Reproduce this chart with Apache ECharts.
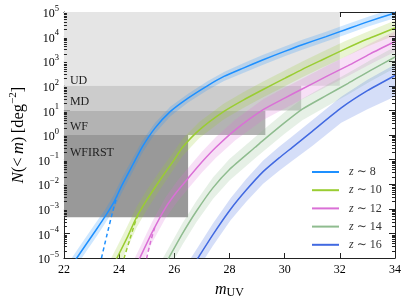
<!DOCTYPE html>
<html><head><meta charset="utf-8">
<script src="https://cdn.jsdelivr.net/npm/echarts/dist/echarts.min.js"></script>
<style>html,body{margin:0;padding:0;background:#fff}#c{width:407px;height:304px}</style>
</head><body><div id="c"></div>
<script>
// ---- data (log10 of N(<m) [deg^-2]) ----
const seriesNames = ['z8', 'z10', 'z12', 'z14', 'z16'];

const z8_m    = [22.1, 22.8, 23.2, 23.5, 23.8, 24.1, 24.5, 24.83, 25.3, 25.86, 26.5, 27.2, 27.8, 28.5, 29.2, 30.0, 30.64, 31.5, 32.2, 33.0, 34.0];
const z8_logN = [-5.6, -4.45, -3.8, -3.3, -2.75, -2.05, -1.2, -0.5, 0.28, 0.96, 1.5, 2.0, 2.38, 2.72, 3.05, 3.4, 3.67, 4.0, 4.28, 4.6, 4.96];
const z8_hi   = [-5.3, -4.15, -3.5, -3.02, -2.45, -1.75, -0.92, -0.25, 0.5, 1.16, 1.68, 2.18, 2.56, 2.92, 3.25, 3.6, 3.87, 4.2, 4.48, 4.8, 5.16];
const z8_lo   = [-5.9, -4.75, -4.1, -3.58, -3.05, -2.35, -1.48, -0.75, 0.06, 0.76, 1.32, 1.82, 2.2, 2.52, 2.85, 3.2, 3.47, 3.8, 4.08, 4.4, 4.76];

const z10_m    = [23.6, 23.92, 24.3, 24.63, 25.0, 25.5, 26.0, 26.3, 26.9, 27.8, 28.5, 29.22, 30.0, 30.64, 31.35, 32.2, 33.0, 34.0];
const z10_logN = [-5.7, -5.0, -4.15, -3.35, -2.65, -1.8, -1.0, -0.5, 0.2, 0.96, 1.42, 1.85, 2.3, 2.67, 3.05, 3.5, 3.9, 4.35];
const z10_hi   = [-5.25, -4.55, -3.7, -2.93, -2.25, -1.42, -0.65, -0.15, 0.53, 1.28, 1.74, 2.17, 2.62, 2.99, 3.37, 3.82, 4.2, 4.65];
const z10_lo   = [-6.15, -5.45, -4.6, -3.77, -3.05, -2.18, -1.35, -0.85, -0.13, 0.64, 1.1, 1.53, 1.98, 2.35, 2.73, 3.18, 3.6, 4.05];

const z12_m    = [24.45, 24.75, 25.2, 25.68, 26.1, 26.5, 27.0, 27.51, 28.2, 29.22, 30.0, 30.6, 31.5, 32.3, 33.1, 34.0];
const z12_logN = [-5.7, -5.0, -3.95, -2.96, -2.3, -1.76, -1.1, -0.5, 0.2, 1.03, 1.5, 1.85, 2.37, 2.82, 3.3, 3.8];
const z12_hi   = [-5.28, -4.58, -3.53, -2.54, -1.88, -1.34, -0.68, -0.08, 0.62, 1.45, 1.92, 2.27, 2.79, 3.24, 3.72, 4.22];
const z12_lo   = [-6.12, -5.42, -4.37, -3.38, -2.72, -2.18, -1.52, -0.92, -0.22, 0.61, 1.08, 1.43, 1.95, 2.4, 2.88, 3.38];

const z14_m    = [25.5, 25.8, 26.3, 26.8, 27.4, 28.0, 28.93, 29.22, 30.0, 30.64, 31.5, 32.3, 33.1, 34.0];
const z14_logN = [-5.6, -5.0, -4.0, -3.1, -2.15, -1.4, -0.5, -0.22, 0.5, 1.05, 1.6, 2.1, 2.62, 3.17];
const z14_hi   = [-5.18, -4.58, -3.58, -2.68, -1.73, -0.98, -0.08, 0.2, 0.92, 1.47, 2.02, 2.52, 3.04, 3.59];
const z14_lo   = [-6.05, -5.45, -4.45, -3.55, -2.6, -1.85, -0.95, -0.67, 0.05, 0.6, 1.15, 1.65, 2.17, 2.72];

const z16_m    = [26.5, 26.86, 27.4, 28.04, 28.6, 29.22, 29.8, 30.28, 31.0, 32.05, 33.0, 34.0];
const z16_logN = [-5.63, -5.0, -4.05, -3.02, -2.25, -1.49, -0.93, -0.5, 0.15, 1.1, 1.8, 2.42];
const z16_hi   = [-5.18, -4.55, -3.6, -2.57, -1.8, -1.04, -0.48, -0.05, 0.6, 1.55, 2.25, 2.87];
const z16_lo   = [-6.08, -5.45, -4.5, -3.47, -2.72, -1.98, -1.45, -1.05, -0.45, 0.5, 1.05, 1.57];

// dashed (alternative faint-end) curves
const z8d_m     = [23.3, 23.36, 23.55, 23.77, 23.92];
const z8d_logN  = [-5.28, -5.0, -4.1, -3.1, -2.5];
const z10d_m    = [24.12, 24.18, 24.4, 24.54, 24.68];
const z10d_logN = [-5.3, -5.0, -4.2, -3.69, -3.25];
const z12d_m    = [24.95, 25.0, 25.15, 25.3];
const z12d_logN = [-5.3, -5.0, -4.3, -3.72];

// survey regions
const surveyNames  = ['UD', 'MD', 'WF', 'WFIRST'];
const surveyMagMax = [32.0, 30.6, 29.3, 26.5];
const surveyNMin   = [1e2, 1e1, 1e0, 4.5e-4];
const surveyNMax   = [1e5, 1e2, 1e1, 1e0];

// ---- styling ----
const F = "'Liberation Serif','DejaVu Serif',serif";
const lineColors = ['#1e90ff', '#9acd32', '#da70d6', '#8fbc8f', '#4169e1'];
const bandColors = ['rgba(30,144,255,0.22)', 'rgba(154,205,50,0.22)', 'rgba(218,112,214,0.22)', 'rgba(143,188,143,0.22)', 'rgba(65,105,225,0.22)'];
const surveyColors = ['#e5e5e5', '#cccccc', '#b3b3b3', '#999999'];

const allM = [z8_m, z10_m, z12_m, z14_m, z16_m];
const allN = [z8_logN, z10_logN, z12_logN, z14_logN, z16_logN];
const allHi = [z8_hi, z10_hi, z12_hi, z14_hi, z16_hi];
const allLo = [z8_lo, z10_lo, z12_lo, z14_lo, z16_lo];
const dashM = [z8d_m, z10d_m, z12d_m];
const dashN = [z8d_logN, z10d_logN, z12d_logN];

const p10 = v => Math.pow(10, v);
function clipRect(cs) { return {type: 'rect', shape: {x: cs.x, y: cs.y, width: cs.width, height: cs.height}}; }

const series = [];
// survey rectangles
series.push({
  type: 'custom', z: 1, silent: true, animation: false,
  data: surveyNames.map((n, i) => [22, surveyNMin[i], surveyMagMax[i], surveyNMax[i]]),
  encode: {x: [0, 2], y: [1, 3]},
  renderItem: function (params, api) {
    const i = params.dataIndex;
    const p0 = api.coord([api.value(0), api.value(3)]);
    const p1 = api.coord([api.value(2), api.value(1)]);
    const dy = [-4.5, -8.5, -8.5, 17.5][i];
    const ty = i < 3 ? p1[1] + dy : p0[1] + dy;
    return {type: 'group', children: [
      {type: 'rect', shape: {x: p0[0], y: p0[1], width: p1[0] - p0[0], height: p1[1] - p0[1]}, style: {fill: surveyColors[i]}},
      {type: 'text', style: {text: surveyNames[i], x: p0[0] + 6, y: ty, fill: '#222', font: '12px ' + F, verticalAlign: 'middle'}}
    ], clipPath: clipRect(params.coordSys)};
  }
});
// bands
allM.forEach((ms, k) => {
  series.push({
    type: 'custom', z: 2, silent: true, animation: false,
    data: [[28, 1]],
    renderItem: function (params, api) {
      const pts = [];
      for (let i = 0; i < ms.length; i++) pts.push(api.coord([ms[i], p10(allHi[k][i])]));
      for (let i = ms.length - 1; i >= 0; i--) pts.push(api.coord([ms[i], p10(allLo[k][i])]));
      return {type: 'polygon', shape: {points: pts}, style: {fill: bandColors[k]}, clipPath: clipRect(params.coordSys)};
    }
  });
});
// dashed
dashM.forEach((ms, k) => {
  series.push({
    type: 'line', z: 3, silent: true, animation: false, symbol: 'none', smooth: 0.2,
    data: ms.map((m, i) => [m, p10(dashN[k][i])]),
    lineStyle: {color: lineColors[k], width: 1.5, type: [4, 3]}
  });
});
// solid lines
allM.forEach((ms, k) => {
  series.push({
    name: seriesNames[k], type: 'line', z: 4, silent: true, animation: false, symbol: 'none', smooth: 0.2,
    data: ms.map((m, i) => [m, p10(allN[k][i])]),
    lineStyle: {color: lineColors[k], width: 1.5}, itemStyle: {color: lineColors[k]}
  });
});
// minor ticks on log axis (both sides)
const minorVals = [];
for (let e = -5; e < 5; e++) for (let j = 2; j <= 9; j++) minorVals.push(j * p10(e));
series.push({
  type: 'custom', z: 10, silent: true, animation: false,
  data: [[28, 1]],
  renderItem: function (params, api) {
    const cs = params.coordSys;
    const ch = [];
    minorVals.forEach(v => {
      const y = Math.round(api.coord([28, v])[1]) + 0.5;
      ch.push({type: 'line', shape: {x1: cs.x, y1: y, x2: cs.x + 3, y2: y}, style: {stroke: '#222', lineWidth: 1}});
      ch.push({type: 'line', shape: {x1: cs.x + cs.width - 3, y1: y, x2: cs.x + cs.width, y2: y}, style: {stroke: '#222', lineWidth: 1}});
    });
    return {type: 'group', children: ch};
  }
});

// one legend component per row so each row sits where the reference has it
const legends = seriesNames.map((name, k) => ({
  data: [name], orient: 'vertical', left: 311, top: 166 + k * 18.2, padding: 0,
  itemWidth: 27, itemHeight: 14,
  itemStyle: {opacity: 0}, lineStyle: {width: 2},
  formatter: n => '{i|z}{r| \u223c ' + n.slice(1) + '}',
  textStyle: {padding: [0, 0, 0, 5], rich: {
    i: {fontFamily: F, fontStyle: 'italic', fontSize: 12, color: '#333'},
    r: {fontFamily: F, fontSize: 12, color: '#333'}
  }}
}));

const axisLine = {show: true, lineStyle: {color: '#222', width: 1}};
const chart = echarts.init(document.getElementById('c'), null, {renderer: 'canvas'});
chart.setOption({
  animation: false,
  grid: {left: 56, right: 12, top: 12, bottom: 41},
  legend: legends,
  xAxis: [{
    type: 'value', min: 22, max: 34, interval: 2,
    axisLine: axisLine, splitLine: {show: false},
    axisTick: {inside: true, length: 5, lineStyle: {color: '#222'}},
    axisLabel: {fontFamily: F, fontSize: 12, color: '#000', margin: 6},
    name: '{i|m}{u|UV}', nameLocation: 'middle', nameGap: 24,
    nameTextStyle: {rich: {
      i: {fontFamily: F, fontStyle: 'italic', fontSize: 16, color: '#000', verticalAlign: 'top', lineHeight: 17},
      u: {fontFamily: F, fontSize: 12, color: '#000', verticalAlign: 'bottom', lineHeight: 17, padding: [6, 0, 0, 0]}
    }}
  }, {
    type: 'value', min: 22, max: 34, interval: 2, position: 'top',
    axisLine: axisLine, splitLine: {show: false},
    axisTick: {inside: true, length: 5, lineStyle: {color: '#222'}},
    axisLabel: {show: false}
  }],
  yAxis: [{
    type: 'log', logBase: 10, min: 1e-5, max: 1e5, interval: 1, splitNumber: 10,
    axisLine: axisLine, splitLine: {show: false},
    axisTick: {inside: true, length: 6, lineStyle: {color: '#222'}},
    axisLabel: {margin: 5, formatter: function (v) {
      const e = Math.round(Math.log10(v));
      return '{b|10}{s|' + (e < 0 ? '\u2212' + (-e) : e) + '}';
    }, rich: {
      b: {fontFamily: F, fontSize: 12, color: '#000', verticalAlign: 'bottom', lineHeight: 16},
      s: {fontFamily: F, fontSize: 8.5, color: '#000', verticalAlign: 'top', lineHeight: 16}
    }},
    name: '{i|N}{r|(<\u2009}{i|m}{r|)\u2009[deg}{s|\u22122}{r|]}', nameLocation: 'middle', nameGap: 35, nameRotate: 90,
    nameTextStyle: {rich: {
      i: {fontFamily: F, fontStyle: 'italic', fontSize: 16.5, color: '#000', verticalAlign: 'bottom', lineHeight: 19},
      r: {fontFamily: F, fontSize: 16.5, color: '#000', verticalAlign: 'bottom', lineHeight: 19},
      s: {fontFamily: F, fontSize: 11, color: '#000', verticalAlign: 'top', lineHeight: 19}
    }}
  }, {
    type: 'log', logBase: 10, min: 1e-5, max: 1e5, interval: 1, splitNumber: 10, position: 'right',
    axisLine: axisLine, splitLine: {show: false},
    axisTick: {inside: true, length: 6, lineStyle: {color: '#222'}},
    axisLabel: {show: false}
  }],
  series: series
});
</script></body></html>
